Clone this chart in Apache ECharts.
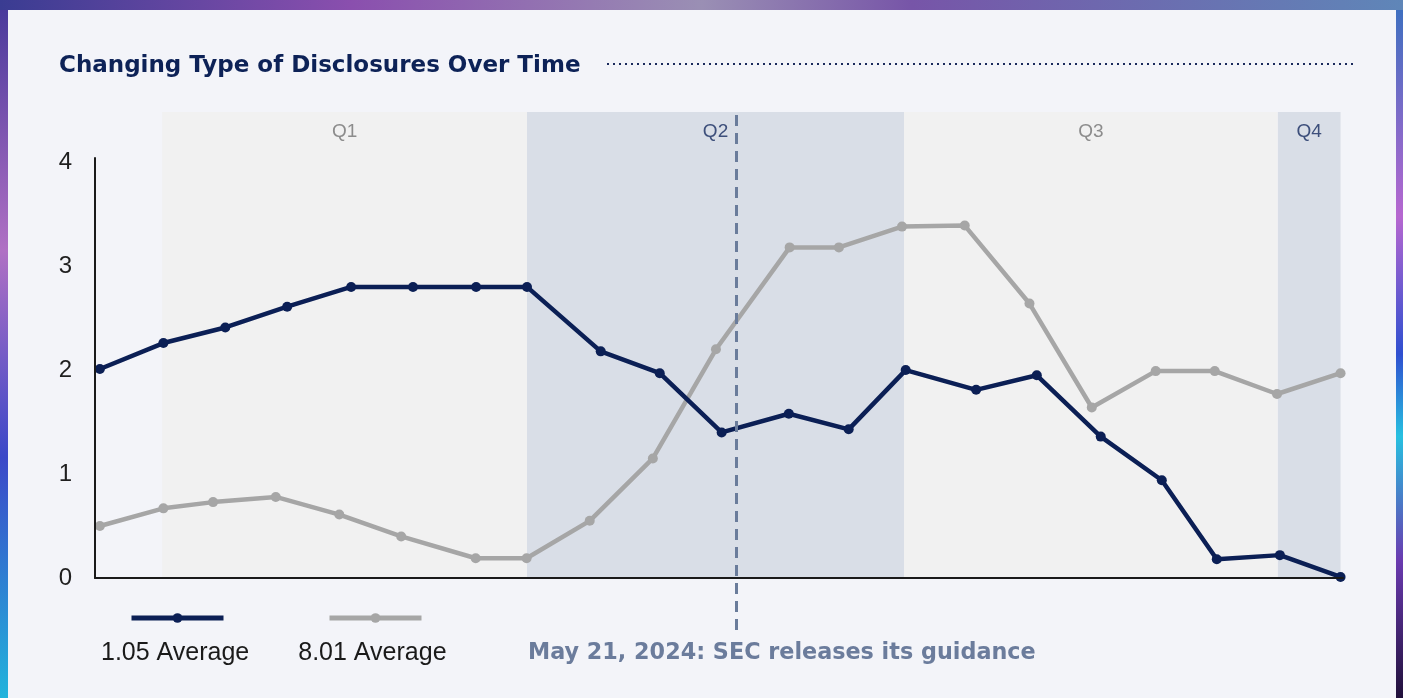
<!DOCTYPE html>
<html>
<head>
<meta charset="utf-8">
<title>Changing Type of Disclosures Over Time</title>
<script src="https://cdn.jsdelivr.net/npm/echarts@6/dist/echarts.min.js"></script>
<style>
  html, body { margin: 0; padding: 0; width: 1403px; height: 698px; overflow: hidden; }
  body {
    position: relative;
    background: linear-gradient(90deg, #3a3c92 0%, #8a4fae 25%, #9a8fb4 50%, #7755a8 65%, #5f86b8 100%);
  }
  #leftEdge {
    position: absolute; left: 0; top: 10px; width: 8px; height: 688px;
    background: linear-gradient(180deg, #4a3a9c 0%, #b070c4 35%, #3b48c8 65%, #22b4dc 100%);
  }
  #rightEdge {
    position: absolute; right: 0; top: 10px; width: 7px; height: 688px;
    background: linear-gradient(180deg, #3f6fc0 0%, #b667d0 30%, #2f4fd0 50%, #27c0e0 62%, #6a3ab0 80%, #20103a 100%);
  }
  #card { position: absolute; left: 8px; top: 10px; width: 1388px; height: 688px; background: #f3f4f9; }
  #chart { position: absolute; left: 0; top: 0; width: 1403px; height: 698px; }
</style>
</head>
<body>
<div id="leftEdge"></div>
<div id="rightEdge"></div>
<div id="card"></div>
<div id="chart"></div>
<script>
// x values are days counted from Jan 1, 2024
const darkName = "1.05 Average"
const darkDays = [-15.3, 0.3, 15.5, 30.7, 46.4, 61.6, 77.1, 89.6, 107.7, 122.2, 137.4, 153.9, 168.6, 182.6, 199.9, 214.8, 230.5, 245.5, 259.0, 274.5, 289.4]
const darkValues = [2.01, 2.26, 2.41, 2.61, 2.80, 2.80, 2.80, 2.80, 2.18, 1.97, 1.40, 1.58, 1.43, 2.00, 1.81, 1.95, 1.36, 0.94, 0.18, 0.22, 0.01]

const grayName = "8.01 Average"
const grayDays = [-15.3, 0.3, 12.5, 27.9, 43.5, 58.7, 77.0, 89.5, 105.0, 120.5, 136.0, 154.1, 166.2, 181.7, 197.1, 213.0, 228.3, 244.0, 258.5, 273.8, 289.4]
const grayValues = [0.50, 0.67, 0.73, 0.78, 0.61, 0.40, 0.19, 0.19, 0.55, 1.15, 2.20, 3.18, 3.18, 3.38, 3.39, 2.64, 1.64, 1.99, 1.99, 1.77, 1.97]

const quarterNames = ["Q1", "Q2", "Q3", "Q4"]
const quarterStarts = [0, 89.6, 182.2, 274.0]
const quarterEnds = [89.6, 182.2, 274.0, 289.4]

const guidanceDay = 141
const guidanceText = "May 21, 2024: SEC releases its guidance"
const chartTitle = "Changing Type of Disclosures Over Time"

const NAVY = "#0b1f55"
const GRAY = "#a6a6a6"
const boldFont = "'DejaVu Sans', 'Liberation Sans', Arial, sans-serif"
const textFont = "'Liberation Sans', Arial, sans-serif"

const xMin = -16.5
const xMax = 290

const chart = echarts.init(document.getElementById("chart"), null, { renderer: "canvas" })

const pairs = (xs, ys) => xs.map((x, i) => [x, ys[i]])

const bandData = quarterNames.map((q, i) => {
  const blue = i % 2 === 1
  return [
    {
      name: q,
      xAxis: quarterStarts[i],
      yAxis: 0,
      itemStyle: { color: blue ? "#d9dee7" : "#f1f1f1" },
      label: { color: blue ? "#3d4f7b" : "#8c8c8c" }
    },
    { xAxis: quarterEnds[i], yAxis: 4.48 }
  ]
})

const options = {
  backgroundColor: "transparent",
  animation: false,
  title: [
    {
      text: chartTitle,
      left: 54,
      top: 50,
      textStyle: { fontFamily: boldFont, fontWeight: 700, fontSize: 23, color: "#0d2257" }
    },
    {
      text: guidanceText,
      left: 523,
      top: 637,
      textStyle: { fontFamily: boldFont, fontWeight: 700, fontSize: 22.3, color: "#6b7c9c" }
    }
  ],
  graphic: [
    {
      type: "line",
      shape: { x1: 607, y1: 64, x2: 1353, y2: 64 },
      style: { stroke: "#1a2a5c", lineWidth: 2, lineDash: [2, 4] },
      silent: true
    }
  ],
  legend: [
    {
      data: [darkName, grayName],
      left: 129,
      top: 612,
      padding: 0,
      itemWidth: 92,
      itemHeight: 12,
      itemGap: 101,
      selectedMode: false,
      lineStyle: { width: 5 },
      formatter: () => "",
      textStyle: { fontSize: 1 }
    },
    {
      data: [darkName, grayName],
      left: 95,
      top: 641,
      padding: 0,
      itemWidth: 0,
      itemHeight: 0,
      itemGap: 43,
      selectedMode: false,
      itemStyle: { opacity: 0 },
      lineStyle: { opacity: 0 },
      textStyle: { fontFamily: textFont, fontSize: 25, color: "#1a1a1a" }
    }
  ],
  grid: [
    { left: 95, right: 60, top: 112, bottom: 68 },
    { left: 95, right: 60, top: 158, bottom: 120 }
  ],
  xAxis: [
    { gridIndex: 0, type: "value", min: xMin, max: xMax, show: false },
    {
      gridIndex: 1, type: "value", min: xMin, max: xMax, z: 5,
      axisLine: { show: true, onZero: false, lineStyle: { color: "#1a1a1a", width: 2 } },
      axisTick: { show: false },
      axisLabel: { show: false },
      splitLine: { show: false }
    }
  ],
  yAxis: [
    { gridIndex: 0, type: "value", min: -0.5, max: 4.48, show: false },
    {
      gridIndex: 1, type: "value", min: 0, max: 4.04, interval: 1, z: 5,
      axisLine: { show: true, onZero: false, lineStyle: { color: "#1a1a1a", width: 2 } },
      axisTick: { show: false },
      splitLine: { show: false },
      axisLabel: {
        margin: 23,
        fontFamily: textFont,
        fontSize: 24,
        color: "#1f1f1f",
        formatter: (v) => (Number.isInteger(v) ? String(v) : "")
      }
    }
  ],
  series: [
    {
      type: "line",
      xAxisIndex: 0,
      yAxisIndex: 0,
      data: [],
      silent: true,
      z: 1,
      markArea: {
        silent: true,
        label: {
          show: true,
          position: "insideTop",
          distance: 10,
          fontFamily: textFont,
          fontSize: 19
        },
        data: bandData
      },
      markLine: {
        silent: true,
        symbol: "none",
        label: { show: false },
        lineStyle: { color: "#6a7c9b", width: 3, type: [11, 7] },
        data: [{ xAxis: guidanceDay }]
      }
    },
    {
      name: grayName,
      type: "line",
      xAxisIndex: 1,
      yAxisIndex: 1,
      data: pairs(grayDays, grayValues),
      symbol: "circle",
      symbolSize: 10,
      lineStyle: { color: GRAY, width: 4.5 },
      itemStyle: { color: GRAY },
      z: 3
    },
    {
      name: darkName,
      type: "line",
      xAxisIndex: 1,
      yAxisIndex: 1,
      data: pairs(darkDays, darkValues),
      symbol: "circle",
      symbolSize: 10,
      lineStyle: { color: NAVY, width: 4.5 },
      itemStyle: { color: NAVY },
      z: 4
    }
  ]
}

chart.setOption(options)
</script>
</body>
</html>
